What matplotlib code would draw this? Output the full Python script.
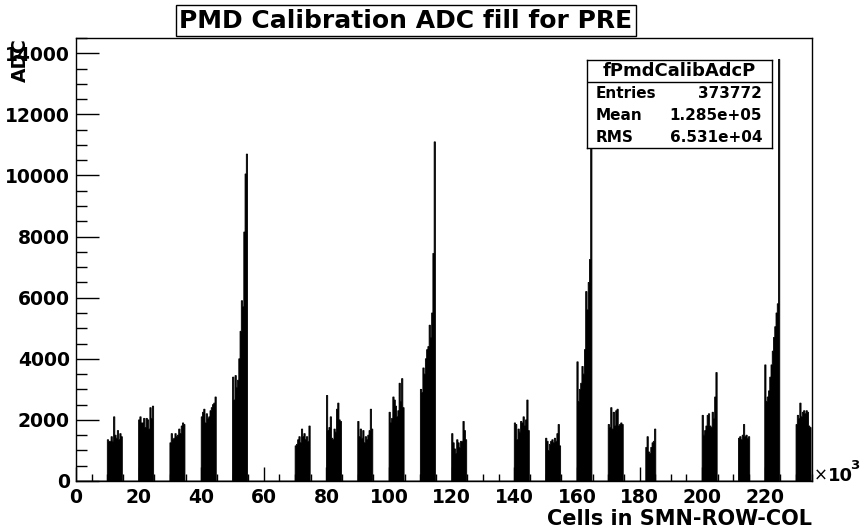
import numpy as np
import matplotlib
matplotlib.use("Agg")
import matplotlib.pyplot as plt
from matplotlib.ticker import MultipleLocator

# ---- histogram content (ADC counts per bin, x in units of 10^3 cells) ----
bin_width = 0.4
x_max = 235.0

c10 = [1350, 1300, 1300, 1450, 1300, 2100, 1500, 1400, 1650, 1350, 1550, 1450]
c20 = [2000, 2100, 1900, 1900, 2050, 1750, 2050, 2000, 1700, 2400, 2050, 2450]
c30 = [1250, 1550, 1350, 1400, 1550, 1450, 1500, 1700, 1550, 1800, 1900, 1850]
c40 = [2100, 2250, 2350, 1900, 2200, 2050, 2100, 2300, 2400, 2500, 2550, 2750]
c50 = [3400, 2650, 3450, 3050, 3300, 4000, 4900, 5900, 5700, 8150, 10050, 10700]
c70 = [1150, 1200, 1350, 1450, 1250, 1700, 1450, 1550, 1350, 1450, 1300, 1800]
c80 = [2800, 1650, 1750, 2100, 1400, 1350, 1700, 1600, 2350, 2550, 2000, 1950]
c90 = [1950, 1450, 1700, 1400, 1650, 1250, 1450, 1350, 1500, 1650, 2350, 1700]
c100 = [2250, 1900, 2050, 2750, 2650, 2450, 2100, 2300, 3200, 2600, 3350, 2400]
c110 = [3000, 2900, 3700, 3500, 4000, 4300, 4400, 5100, 4700, 5500, 7450, 11100]
c120 = [1550, 1250, 1050, 900, 1350, 1250, 1100, 1300, 1300, 1950, 1650, 1350]
c140 = [1900, 1850, 1350, 1700, 1600, 1950, 1900, 2100, 1800, 2000, 2650, 1650]
c150 = [1400, 1300, 1000, 1200, 1300, 1350, 1250, 1400, 1300, 1550, 1850, 1150]
c160 = [3900, 2600, 3000, 3200, 3750, 3500, 4300, 6200, 5600, 6500, 7250, 12500]
c170 = [1850, 1750, 2400, 1700, 2250, 1800, 2300, 2350, 1800, 1850, 1900, 1850]
c180 = [1100, 1450, 950, 900, 1100, 1250, 1300, 1700]
c200 = [2150, 1500, 1650, 1800, 2150, 2200, 1800, 1750, 2250, 2050, 2750, 3550]
c210 = [1400, 1450, 1350, 1500, 1850, 1450, 1500, 1400, 1450]
c220 = [3800, 2600, 2750, 2950, 3400, 3800, 4250, 4700, 5050, 5500, 5800, 13800]
c230 = [1850, 2150, 2050, 2550, 2100, 2250, 2300, 2200, 2300, 2250, 1800, 1750]

cluster_start = [10, 20, 30, 40, 50, 70, 80, 90, 100, 110, 120, 140, 150,
                 160, 170, 182, 200, 211.6, 220, 230]
cluster_adc = [c10, c20, c30, c40, c50, c70, c80, c90, c100, c110, c120, c140,
               c150, c160, c170, c180, c200, c210, c220, c230]

stats_name = "fPmdCalibAdcP"
stats_rows = [("Entries", "373772"), ("Mean", "1.285e+05"), ("RMS", "6.531e+04")]

# ---- fill a fixed-width binning over the whole axis ----
n_bins = int(round(x_max / bin_width))
edges = np.arange(n_bins + 1) * bin_width
counts = np.zeros(n_bins)
for start, vals in zip(cluster_start, cluster_adc):
    i0 = int(round(start / bin_width))
    counts[i0:i0 + len(vals)] = vals

plt.rcParams["font.family"] = ["DejaVu Sans"]
plt.rcParams["font.weight"] = "bold"

W, H = 865, 530
fig = plt.figure(figsize=(W / 100, H / 100), dpi=100)
ax = fig.add_axes([76 / W, 1 - 481 / H, (811.7 - 76) / W, (481 - 38) / H])

ax.stairs(counts, edges, fill=True, color="black", linewidth=0)
ax.stairs(counts, edges, color="black", linewidth=0.6)

ax.set_xlim(0, x_max)
ax.set_ylim(0, 14500)

ax.xaxis.set_major_locator(MultipleLocator(20))
ax.xaxis.set_minor_locator(MultipleLocator(5))
ax.yaxis.set_major_locator(MultipleLocator(2000))
ax.yaxis.set_minor_locator(MultipleLocator(500))

ax.tick_params(axis="both", which="both", direction="in", color="black",
               width=1.0, top=False, right=False, labelsize=13.5)
ax.tick_params(axis="y", which="major", length=16.5, pad=4.5)
ax.tick_params(axis="y", which="minor", length=8)
ax.tick_params(axis="x", which="major", length=10, pad=5)
ax.tick_params(axis="x", which="minor", length=5)
for lab in ax.get_xticklabels() + ax.get_yticklabels():
    lab.set_fontweight("bold")

for sp in ax.spines.values():
    sp.set_linewidth(1.0)
    sp.set_color("black")

# axis titles
fig.text(811.7 / W, 1 - 525 / H, "Cells in SMN-ROW-COL", ha="right",
         va="baseline", fontsize=15, fontweight="bold")
fig.text(20 / W, 1 - 38 / H, "ADC", rotation=90, ha="center", va="top",
         fontsize=13.5, fontweight="bold")

# exponent of the x axis
fig.text(814 / W, 1 - 481 / H, "\u00d7", ha="left", va="baseline",
         fontsize=12, fontweight="normal")
fig.text(827.5 / W, 1 - 481 / H, "10", ha="left", va="baseline",
         fontsize=13, fontweight="bold")
fig.text(850 / W, 1 - 469 / H, "3", ha="left", va="baseline",
         fontsize=9.5, fontweight="bold")

# title box
fig.text(406 / W, 1 - 20.5 / H, "PMD Calibration ADC fill for PRE",
         ha="center", va="center", fontsize=18, fontweight="bold",
         bbox=dict(boxstyle="square,pad=0.15", facecolor="white",
                   edgecolor="black", linewidth=1.0))

# statistics box
sx0, sx1, sy0, sy1 = 587, 772, 60, 148.3
sax = fig.add_axes([sx0 / W, 1 - sy1 / H, (sx1 - sx0) / W, (sy1 - sy0) / H])
sax.set_xlim(0, 1)
sax.set_ylim(0, 1)
sax.set_xticks([])
sax.set_yticks([])
sax.set_facecolor("white")
for sp in sax.spines.values():
    sp.set_linewidth(1.0)
    sp.set_color("black")
sep = (sy1 - 81.7) / (sy1 - sy0)
sax.axhline(sep, color="black", linewidth=1.0)
sax.text(0.5, (sy1 - 71) / (sy1 - sy0), stats_name, ha="center",
         va="center", fontsize=13, fontweight="bold")
for (name, val), yc in zip(stats_rows, [94, 116, 137.7]):
    yf = (sy1 - yc) / (sy1 - sy0)
    sax.text(0.049, yf, name, ha="left", va="center", fontsize=11,
             fontweight="bold")
    sax.text(0.946, yf, val, ha="right", va="center", fontsize=11,
             fontweight="bold")

fig.savefig("out.png", dpi=100)
